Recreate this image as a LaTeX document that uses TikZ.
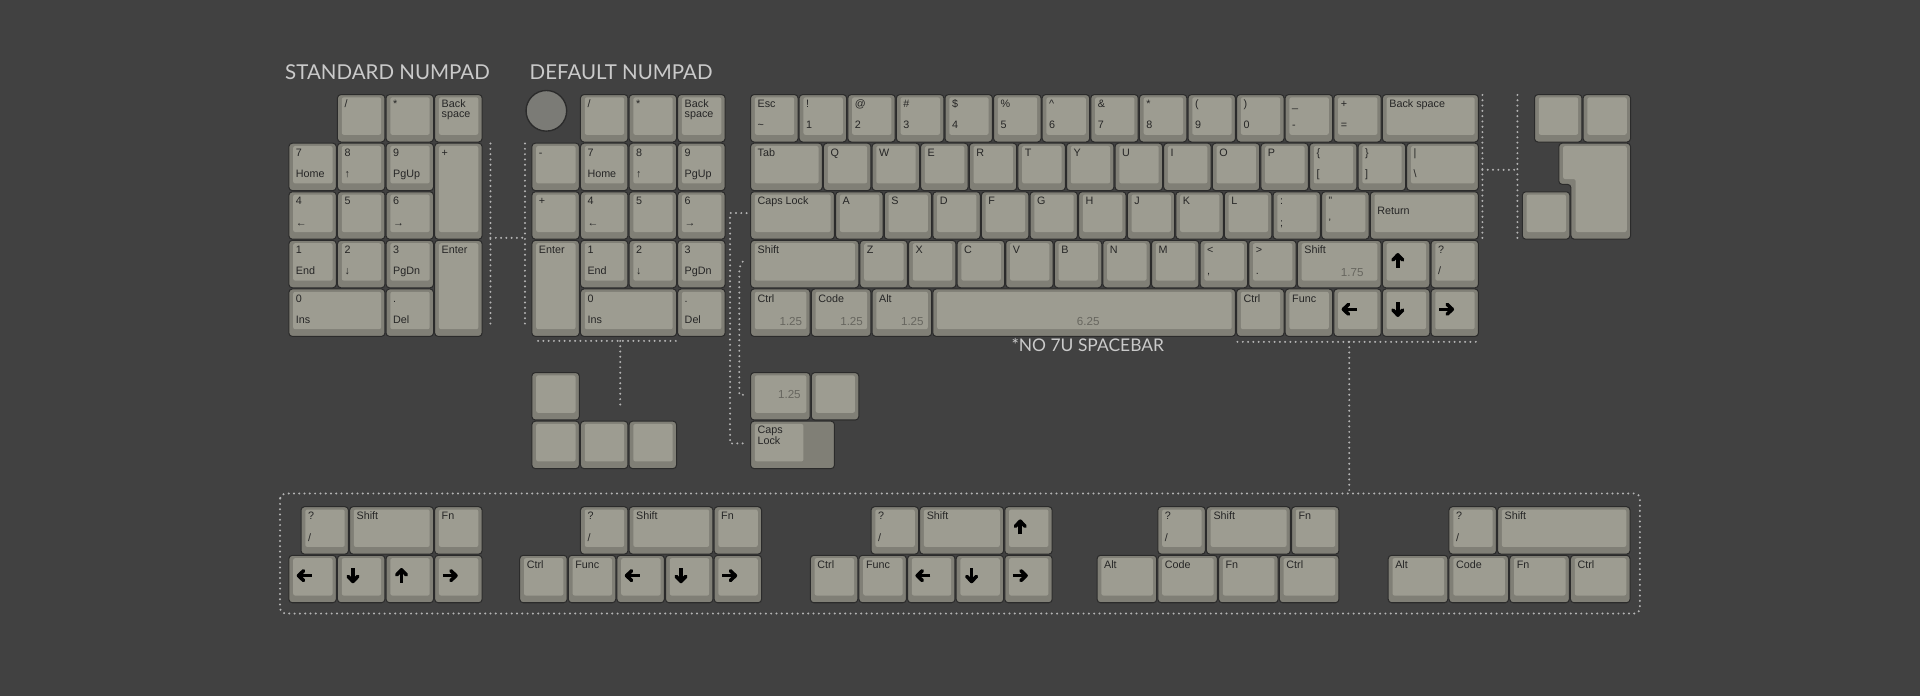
\documentclass[tikz,border=0pt]{standalone}
\usepackage{fontspec}
\setmainfont{Liberation Sans}
\newfontfamily\titlefont{Lato}

\definecolor{board}{HTML}{414141}
\definecolor{captop}{HTML}{9D9C91}
\definecolor{capside}{HTML}{807F76}
\definecolor{capedge}{HTML}{2B2B2B}
\definecolor{ink}{HTML}{262626}
\definecolor{faintink}{HTML}{67665F}
\definecolor{dotcol}{HTML}{B4B4B4}
\definecolor{titlecol}{HTML}{CACACA}
\definecolor{knobcol}{HTML}{7B7B76}

\tikzset{
  keyouter/.style={fill=capside, draw=capedge, line width=0.6pt, rounded corners=2pt},
  keyinner/.style={fill=captop, rounded corners=1.2pt},
  keylegend/.style={font=\fontsize{6.3}{7}\selectfont, text=ink, inner sep=0pt, anchor=base west},
  keysize/.style={font=\fontsize{6.8}{8}\selectfont, text=faintink, inner sep=0pt, anchor=base east},
  keyarrow/.style={draw=black, line width=2.1pt},
  dotlink/.style={draw=dotcol, line width=1.3pt, line cap=round, dash pattern=on 0pt off 3.1pt},
  padtitle/.style={font=\titlefont\fontsize{12}{14}\selectfont, text=titlecol, inner sep=0pt, anchor=base west}
}

% key body: x, y, width, height (y grows downwards)
\newcommand{\keybody}[4]{%
  \path[keyouter] (#1+0.012,#2+0.012) rectangle (#1+#3-0.012,#2+#4-0.012);
  \path[keyinner] (#1+0.1,#2+0.07) rectangle (#1+#3-0.09,#2+#4-0.16);
}
% key with top and bottom legend
\newcommand{\keycap}[6]{%
  \keybody{#1}{#2}{#3}{#4}
  \node[keylegend] at (#1+0.15,#2+0.28) {#5};
  \node[keylegend] at (#1+0.15,#2+0.72) {#6};
}
% key with a tight two line legend
\newcommand{\keytwo}[5]{%
  \keybody{#1}{#2}{#3}{1}
  \node[keylegend] at (#1+0.15,#2+0.27) {#4};
  \node[keylegend] at (#1+0.15,#2+0.49) {#5};
}
% arrow key: x, y, direction
\newcommand{\arrowkey}[3]{%
  \keybody{#1}{#2}{1}{1}
  \begin{scope}[shift={(#1+0.33,#2+0.43)},rotate=#3]
    \draw[keyarrow] (-0.15,0) -- (0.1,0);
    \draw[keyarrow, line join=round, line cap=round] (0.015,0.1) -- (0.12,0) -- (0.015,-0.1);
  \end{scope}
}

\begin{document}
\begin{tikzpicture}[x=1cm,y=-1cm]
  \fill[board] (-15.432,-1.934) rectangle (24.074,12.387);
  \useasboundingbox (-15.432,-1.934) rectangle (24.074,12.387);

  % titles
  \node[padtitle] (stdtitle) at (-9.57,-0.30) {STANDARD NUMPAD};
  \node[padtitle] (deftitle) at (-4.54,-0.30) {DEFAULT NUMPAD};
  \node[padtitle, anchor=base, font=\titlefont\fontsize{10.2}{12}\selectfont] (spacenote) at (6.95,5.30) {*NO 7U SPACEBAR};

  % main block, row 0
  \foreach \i/\t/\b in {0/Esc/\textasciitilde,1/!/1,2/@/2,3/\#/3,4/\$/4,5/\%/5,6/\textasciicircum/6,7/\&/7,8/*/8,9/(/9,10/)/0,11/\_/-,12/+/=}
    {\keycap{\i}{0}{1}{1}{\t}{\b}}
  \keycap{13}{0}{2}{1}{Back space}{}

  % row 1
  \keycap{0}{1}{1.5}{1}{Tab}{}
  \foreach \i/\t in {0/Q,1/W,2/E,3/R,4/T,5/Y,6/U,7/I,8/O,9/P}
    {\keycap{1.5+\i}{1}{1}{1}{\t}{}}
  \keycap{11.5}{1}{1}{1}{\{}{[}
  \keycap{12.5}{1}{1}{1}{\}}{]}
  \keycap{13.5}{1}{1.5}{1}{|}{\textbackslash}

  % row 2
  \keycap{0}{2}{1.75}{1}{Caps Lock}{}
  \foreach \i/\t in {0/A,1/S,2/D,3/F,4/G,5/H,6/J,7/K,8/L}
    {\keycap{1.75+\i}{2}{1}{1}{\t}{}}
  \keycap{10.75}{2}{1}{1}{:}{;}
  \keycap{11.75}{2}{1}{1}{"}{'}
  \keybody{12.75}{2}{2.25}{1}
  \node[keylegend] at (12.9,2.48) {Return};

  % row 3
  \keycap{0}{3}{2.25}{1}{Shift}{}
  \foreach \i/\t in {0/Z,1/X,2/C,3/V,4/B,5/N,6/M}
    {\keycap{2.25+\i}{3}{1}{1}{\t}{}}
  \keycap{9.25}{3}{1}{1}{<}{,}
  \keycap{10.25}{3}{1}{1}{>}{.}
  \keycap{11.25}{3}{1.75}{1}{Shift}{}
  \node[keysize] at (12.63,3.76) {1.75};
  \arrowkey{13}{3}{90}
  \keycap{14}{3}{1}{1}{?}{/}

  % row 4
  \foreach \i/\t in {0/Ctrl,1.25/Code,2.5/Alt} {
    \keycap{\i}{4}{1.25}{1}{\t}{}
    \node[keysize] at (\i+1.08,4.77) {1.25};
  }
  \keybody{3.75}{4}{6.25}{1}
  \node[keysize, anchor=base] at (6.96,4.77) {6.25};
  \keycap{10}{4}{1}{1}{Ctrl}{}
  \keycap{11}{4}{1}{1}{Func}{}
  \arrowkey{12}{4}{180}
  \arrowkey{13}{4}{-90}
  \arrowkey{14}{4}{0}

  % standard numpad
  \begin{scope}[shift={(-9.5,0)}]
    \keycap{1}{0}{1}{1}{/}{}
    \keycap{2}{0}{1}{1}{*}{}
    \keytwo{3}{0}{1}{Back}{space}
    \foreach \i/\t/\b in {0/7/Home,1/8/↑,2/9/PgUp}
      {\keycap{\i}{1}{1}{1}{\t}{\b}}
    \keycap{3}{1}{1}{2}{+}{}
    \foreach \i/\t/\b in {0/4/←,2/6/→}
      {\keycap{\i}{2}{1}{1}{\t}{\b}}
    \keycap{1}{2}{1}{1}{5}{}
    \foreach \i/\t/\b in {0/1/End,1/2/↓,2/3/PgDn}
      {\keycap{\i}{3}{1}{1}{\t}{\b}}
    \keycap{3}{3}{1}{2}{Enter}{}
    \keycap{0}{4}{2}{1}{0}{Ins}
    \keycap{2}{4}{1}{1}{.}{Del}
  \end{scope}

  % default numpad
  \begin{scope}[shift={(-4.5,0)}]
    \draw[fill=knobcol, draw=capedge, line width=0.8pt] (0.31,0.346) circle (0.418);
    \keycap{1}{0}{1}{1}{/}{}
    \keycap{2}{0}{1}{1}{*}{}
    \keytwo{3}{0}{1}{Back}{space}
    \keycap{0}{1}{1}{1}{-}{}
    \foreach \i/\t/\b in {1/7/Home,2/8/↑,3/9/PgUp}
      {\keycap{\i}{1}{1}{1}{\t}{\b}}
    \keycap{0}{2}{1}{1}{+}{}
    \keycap{2}{2}{1}{1}{5}{}
    \foreach \i/\t/\b in {1/4/←,3/6/→}
      {\keycap{\i}{2}{1}{1}{\t}{\b}}
    \keycap{0}{3}{1}{2}{Enter}{}
    \foreach \i/\t/\b in {1/1/End,2/2/↓,3/3/PgDn}
      {\keycap{\i}{3}{1}{1}{\t}{\b}}
    \keycap{1}{4}{2}{1}{0}{Ins}
    \keycap{3}{4}{1}{1}{.}{Del}
    % extra keys below
    \keybody{0}{5.72}{1}{1}
    \foreach \i in {0,1,2}
      {\keybody{\i}{6.72}{1}{1}}
  \end{scope}

  % split shift and stepped caps lock
  \keybody{0}{5.72}{1.25}{1}
  \node[keysize] at (1.05,6.27) {1.25};
  \keybody{1.25}{5.72}{1}{1}
  \path[keyouter] (0.012,6.732) rectangle (1.738,7.708);
  \path[keyinner] (0.1,6.79) rectangle (1.1,7.56);
  \node[keylegend] at (0.15,6.99) {Caps};
  \node[keylegend] at (0.15,7.21) {Lock};

  % split backspace and iso enter
  \keybody{16.13}{0}{1}{1}
  \keybody{17.13}{0}{1}{1}
  \path[keyouter] (16.642,1.012) -- (18.118,1.012) -- (18.118,2.988) -- (16.892,2.988)
    -- (16.892,1.86) -- (16.642,1.86) -- cycle;
  \path[keyinner] (16.73,1.07) -- (18.04,1.07) -- (18.04,2.84) -- (16.99,2.84)
    -- (16.99,1.75) -- (16.73,1.75) -- cycle;
  \keybody{15.88}{2}{1}{1}

  % bottom row options
  \begin{scope}[shift={(-9.5,8.48)}]
    \keycap{0.25}{0}{1}{1}{?}{/}
    \keycap{1.25}{0}{1.75}{1}{Shift}{}
    \keycap{3}{0}{1}{1}{Fn}{}
    \arrowkey{0}{1}{180}
    \arrowkey{1}{1}{-90}
    \arrowkey{2}{1}{90}
    \arrowkey{3}{1}{0}
  \end{scope}
  \begin{scope}[shift={(-4.75,8.48)}]
    \keycap{1.25}{0}{1}{1}{?}{/}
    \keycap{2.25}{0}{1.75}{1}{Shift}{}
    \keycap{4}{0}{1}{1}{Fn}{}
    \keycap{0}{1}{1}{1}{Ctrl}{}
    \keycap{1}{1}{1}{1}{Func}{}
    \arrowkey{2}{1}{180}
    \arrowkey{3}{1}{-90}
    \arrowkey{4}{1}{0}
  \end{scope}
  \begin{scope}[shift={(1.23,8.48)}]
    \keycap{1.25}{0}{1}{1}{?}{/}
    \keycap{2.25}{0}{1.75}{1}{Shift}{}
    \arrowkey{4}{0}{90}
    \keycap{0}{1}{1}{1}{Ctrl}{}
    \keycap{1}{1}{1}{1}{Func}{}
    \arrowkey{2}{1}{180}
    \arrowkey{3}{1}{-90}
    \arrowkey{4}{1}{0}
  \end{scope}
  \begin{scope}[shift={(7.13,8.48)}]
    \keycap{1.25}{0}{1}{1}{?}{/}
    \keycap{2.25}{0}{1.75}{1}{Shift}{}
    \keycap{4}{0}{1}{1}{Fn}{}
    \foreach \i/\t in {0/Alt,1/Code,2/Fn,3/Ctrl}
      {\keycap{1.25*\i}{1}{1.25}{1}{\t}{}}
  \end{scope}
  \begin{scope}[shift={(13.12,8.48)}]
    \keycap{1.25}{0}{1}{1}{?}{/}
    \keycap{2.25}{0}{2.75}{1}{Shift}{}
    \foreach \i/\t in {0/Alt,1/Code,2/Fn,3/Ctrl}
      {\keycap{1.25*\i}{1}{1.25}{1}{\t}{}}
  \end{scope}

  % dotted links
  \draw[dotlink] (-5.34,1.02) -- (-5.34,4.81);
  \draw[dotlink] (-4.63,1.02) -- (-4.63,4.81);
  \draw[dotlink] (-5.34,2.96) -- (-4.63,2.96);
  \draw[dotlink] (-4.36,5.08) -- (-1.52,5.08);
  \draw[dotlink] (-2.67,5.08) -- (-2.67,6.49);
  \draw[dotlink] (-0.07,2.45) -- (-0.41,2.45) -- (-0.41,7.19) -- (-0.07,7.19);
  \draw[dotlink] (-0.15,3.45) -- (-0.22,3.58) -- (-0.22,6.19) -- (-0.07,6.19);
  \draw[dotlink] (15.07,0.02) -- (15.07,2.98);
  \draw[dotlink] (15.79,0.02) -- (15.79,2.98);
  \draw[dotlink] (15.07,1.56) -- (15.79,1.56);
  \draw[dotlink] (10.03,5.10) -- (15.02,5.10);
  \draw[dotlink] (12.33,5.10) -- (12.33,8.22);
  \draw[dotlink, rounded corners=3pt] (-9.67,8.22) rectangle (18.31,10.69);
\end{tikzpicture}
\end{document}
